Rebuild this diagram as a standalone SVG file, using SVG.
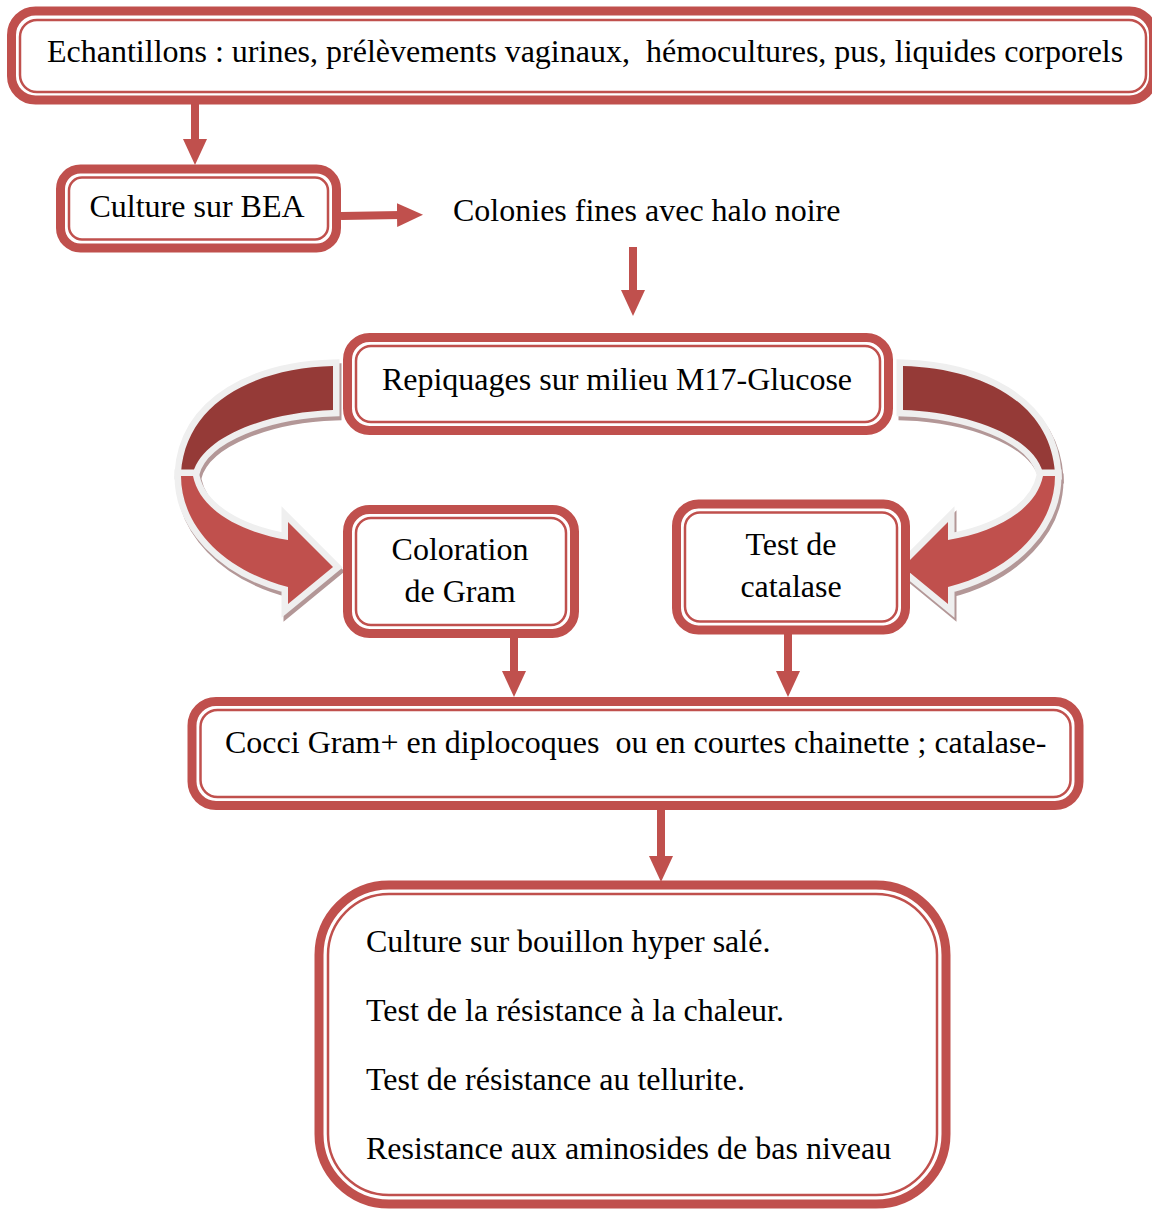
<svg xmlns="http://www.w3.org/2000/svg" width="1152" height="1211" viewBox="0 0 1152 1211">
<style>
.thick{fill:#fff;stroke:#C0504D;stroke-width:9}
.thin{fill:none;stroke:#C0504D;stroke-width:2.5}
text{font-family:'Liberation Serif',serif;font-size:32px;fill:#000}
.c{text-anchor:middle}
.conn{stroke:#C0504D;stroke-width:8;fill:none}
.dark{fill:#953A37;stroke:#EFEFEF;stroke-width:13;paint-order:stroke;stroke-linejoin:miter;stroke-miterlimit:10}
.light{fill:#C0504D;stroke:#EFEFEF;stroke-width:13;paint-order:stroke;stroke-linejoin:miter;stroke-miterlimit:10}
.shadow{fill:#B39797;stroke:#B39797;stroke-width:13;stroke-linejoin:miter;stroke-miterlimit:10}
</style>
<defs>
<marker id="ah" markerUnits="userSpaceOnUse" markerWidth="26" markerHeight="26" viewBox="0 0 26 26" refX="4" refY="13" orient="auto">
<path d="M0,1 L26,13 L0,25 Z" fill="#C0504D"/>
</marker>
</defs>
<rect width="1152" height="1211" fill="#fff"/>

<g id="curved-arrows">
<g id="curve-left">
<g transform="translate(2,4)">
<path class="shadow" d="M333,366 C258,368 186,400 181,473 L193,473 C203,435 270,412 333,410 Z"/>
<path class="shadow" d="M181,476 C181,525 222,570 288,587 L288,604 L333,567 L288,522 L288,540 C240,532 200,510 193,476 Z"/>
</g>
<path class="dark" d="M333,366 C258,368 186,400 181,473 L193,473 C203,435 270,412 333,410 Z"/>
<path class="light" d="M181,476 C181,525 222,570 288,587 L288,604 L333,567 L288,522 L288,540 C240,532 200,510 193,476 Z"/>
</g>
<g id="curve-right" transform="translate(1236,0) scale(-1,1)">
<g transform="translate(-2,4)">
<path class="shadow" d="M333,366 C258,368 186,400 181,473 L193,473 C203,435 270,412 333,410 Z"/>
<path class="shadow" d="M181,476 C181,525 222,570 288,587 L288,604 L333,567 L288,522 L288,540 C240,532 200,510 193,476 Z"/>
</g>
<path class="dark" d="M333,366 C258,368 186,400 181,473 L193,473 C203,435 270,412 333,410 Z"/>
<path class="light" d="M181,476 C181,525 222,570 288,587 L288,604 L333,567 L288,522 L288,540 C240,532 200,510 193,476 Z"/>
</g>
</g>

<g id="connectors">
<line class="conn" x1="195" y1="104" x2="195" y2="143" marker-end="url(#ah)"/>
<line class="conn" x1="341" y1="216" x2="401" y2="215" marker-end="url(#ah)"/>
<line class="conn" x1="633" y1="247" x2="633" y2="294" marker-end="url(#ah)"/>
<line class="conn" x1="514" y1="630" x2="514" y2="675" marker-end="url(#ah)"/>
<line class="conn" x1="788" y1="634" x2="788" y2="675" marker-end="url(#ah)"/>
<line class="conn" x1="661" y1="810" x2="661" y2="860" marker-end="url(#ah)"/>
</g>

<g id="n-echantillons">
<rect class="thick" x="11.5" y="11" width="1142" height="89" rx="24"/>
<rect class="thin" x="20" y="20" width="1126" height="72" rx="17"/>
<text x="47" y="62" xml:space="preserve">Echantillons : urines, prélèvements vaginaux,  hémocultures, pus, liquides corporels</text>
</g>

<g id="n-culture-bea">
<rect class="thick" x="60.5" y="169" width="276" height="79" rx="20"/>
<rect class="thin" x="69" y="177.5" width="259" height="62" rx="13"/>
<text class="c" x="197" y="217">Culture sur BEA</text>
</g>

<g id="n-colonies">
<text x="453" y="221">Colonies fines avec halo noire</text>
</g>

<g id="n-repiquages">
<rect class="thick" x="347.5" y="337.5" width="541" height="93" rx="22"/>
<rect class="thin" x="356" y="346" width="524" height="76" rx="15"/>
<text class="c" x="617" y="390">Repiquages sur milieu M17-Glucose</text>
</g>

<g id="n-gram">
<rect class="thick" x="347.5" y="509.5" width="227" height="124" rx="22"/>
<rect class="thin" x="356" y="518" width="210" height="107" rx="15"/>
<text class="c" x="460" y="560">Coloration</text>
<text class="c" x="460" y="602">de Gram</text>
</g>

<g id="n-catalase">
<rect class="thick" x="676.5" y="504" width="229" height="126" rx="22"/>
<rect class="thin" x="685" y="512.5" width="212" height="109" rx="15"/>
<text class="c" x="791" y="555">Test de</text>
<text class="c" x="791" y="597">catalase</text>
</g>

<g id="n-cocci">
<rect class="thick" x="192" y="701.5" width="887" height="104" rx="24"/>
<rect class="thin" x="200.5" y="710" width="870" height="87" rx="17"/>
<text x="225" y="753" xml:space="preserve">Cocci Gram+ en diplocoques  ou en courtes chainette ; catalase-</text>
</g>

<g id="n-tests">
<rect class="thick" x="319" y="885" width="627" height="319" rx="70"/>
<rect class="thin" x="328" y="894" width="609" height="301" rx="61"/>
<text x="366" y="952">Culture sur bouillon hyper salé.</text>
<text x="366" y="1021">Test de la résistance à la chaleur.</text>
<text x="366" y="1090">Test de résistance au tellurite.</text>
<text x="366" y="1159">Resistance aux aminosides de bas niveau</text>
</g>
</svg>
